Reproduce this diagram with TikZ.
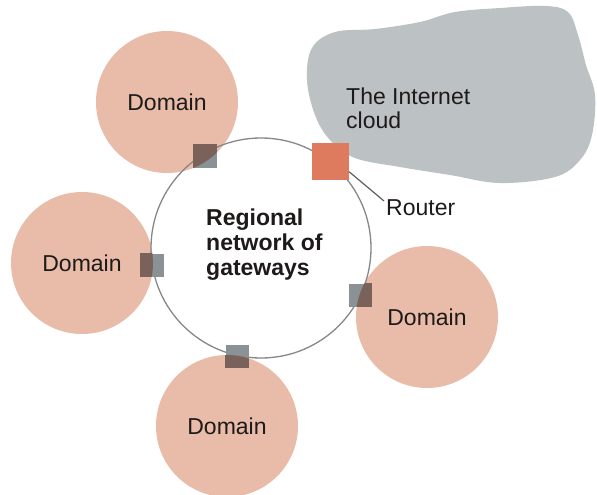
\documentclass[tikz,border=0pt]{standalone}
\usepackage{fontspec}
\setmainfont{Liberation Sans}
\definecolor{peach}{RGB}{232,188,168}
\definecolor{cloudgray}{RGB}{188,193,196}
\definecolor{routerc}{RGB}{222,122,94}
\definecolor{gwgray}{RGB}{138,146,149}
\definecolor{gwbrown}{RGB}{122,98,90}
\definecolor{ringc}{RGB}{135,135,135}
\definecolor{txt}{RGB}{30,26,26}
\begin{document}
\begin{tikzpicture}[x=1pt,y=-1pt,
  domainbox/.style={circle,fill=peach,minimum size=142pt,inner sep=0pt,font=\fontsize{23}{25}\selectfont,text=txt},
  gw/.style={rectangle,fill=gwgray,minimum size=23pt,inner sep=0pt},
  lbl/.style={font=\fontsize{23}{24}\selectfont,text=txt,inner sep=0pt}]
\useasboundingbox[fill=white] (0,0) rectangle (597,495);
% cloud
\fill[cloudgray] plot[smooth cycle,tension=0.6] coordinates {
 (312,48) (335,32) (375,29) (420,22) (455,12) (500,8) (545,6) (568,12)
 (578,35) (586,65) (595,95) (592,135) (580,160) (555,177) (500,183)
 (450,175) (400,167) (355,158) (330,140) (315,115) (307,80)};
% ring
\node[circle,fill=white,minimum size=220pt,inner sep=0pt] (ringbg) at (261,248) {};
% domains
\node[domainbox] (d1) at (167,102) {Domain};
\node[domainbox] (d2) at (82,263) {Domain};
\node[domainbox] (d3) at (427,317) {Domain};
\node[domainbox] (d4) at (227,426) {Domain};
\node[circle,draw=ringc,line width=1.3pt,minimum size=220pt,inner sep=0pt] (ring) at (261,248) {};
% gateways
\node[gw] (g1) at (205,156) {};
\node[gw] (g2) at (152,265) {};
\node[gw] (g3) at (360,295) {};
\node[gw] (g4) at (237,356) {};
\begin{scope}\clip (167,102) circle[radius=71pt];
 \fill[gwbrown] (g1.south west) rectangle (g1.north east);\end{scope}
\begin{scope}\clip (82,263) circle[radius=71pt];
 \fill[gwbrown] (g2.south west) rectangle (g2.north east);\end{scope}
\begin{scope}\clip (427,317) circle[radius=71pt];
 \fill[gwbrown] (g3.south west) rectangle (g3.north east);\end{scope}
\begin{scope}\clip (227,426) circle[radius=71pt];
 \fill[gwbrown] (g4.south west) rectangle (g4.north east);\end{scope}
% router
\node[rectangle,fill=routerc,minimum size=37pt,inner sep=0pt] (router) at (330.5,161) {};
\coordinate (rl) at (384,201);
\draw[ringc!70!black,line width=1.2pt] (router.-30) -- (rl);
\node[lbl,anchor=west] (routertxt) at (386,208) {Router};
% texts
\node[lbl,anchor=west,align=left] (cloudtxt) at (346,108) {The Internet\\cloud};
\node[lbl,anchor=west,align=left,font=\fontsize{23}{25}\selectfont\bfseries] (regtxt) at (206,245) {Regional\\network of\\gateways};
\end{tikzpicture}
\end{document}
